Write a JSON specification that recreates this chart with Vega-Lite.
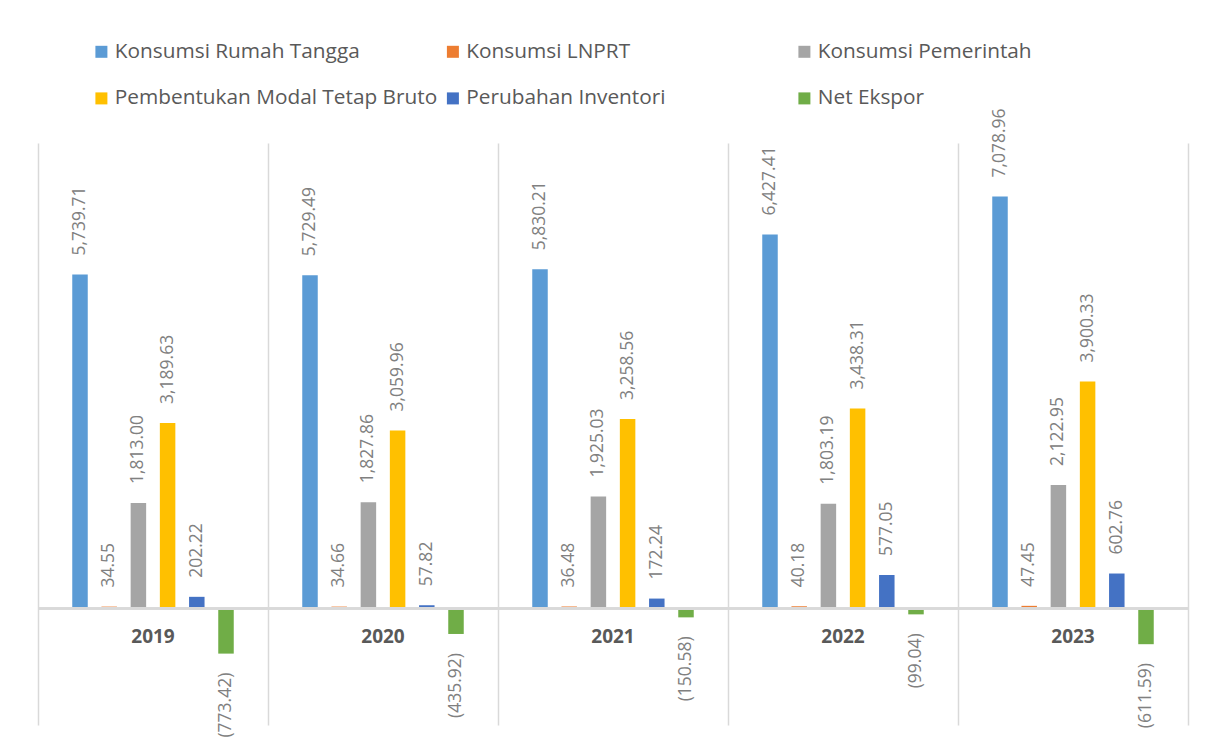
{
  "$schema": "https://vega.github.io/schema/vega-lite/v6.json",
  "autosize": "none",
  "width": 1150,
  "height": 582,
  "padding": {"left": 38, "top": 143, "right": 19, "bottom": 23},
  "background": "white",
  "config": {
    "font": "Open Sans",
    "view": {"stroke": null}
  },
  "data": {
    "values": [
      {"year": "2019", "series": "Konsumsi Rumah Tangga", "value": 5739.71},
      {"year": "2019", "series": "Konsumsi LNPRT", "value": 34.55},
      {"year": "2019", "series": "Konsumsi Pemerintah", "value": 1813.00},
      {"year": "2019", "series": "Pembentukan Modal Tetap Bruto", "value": 3189.63},
      {"year": "2019", "series": "Perubahan Inventori", "value": 202.22},
      {"year": "2019", "series": "Net Ekspor", "value": -773.42},
      {"year": "2020", "series": "Konsumsi Rumah Tangga", "value": 5729.49},
      {"year": "2020", "series": "Konsumsi LNPRT", "value": 34.66},
      {"year": "2020", "series": "Konsumsi Pemerintah", "value": 1827.86},
      {"year": "2020", "series": "Pembentukan Modal Tetap Bruto", "value": 3059.96},
      {"year": "2020", "series": "Perubahan Inventori", "value": 57.82},
      {"year": "2020", "series": "Net Ekspor", "value": -435.92},
      {"year": "2021", "series": "Konsumsi Rumah Tangga", "value": 5830.21},
      {"year": "2021", "series": "Konsumsi LNPRT", "value": 36.48},
      {"year": "2021", "series": "Konsumsi Pemerintah", "value": 1925.03},
      {"year": "2021", "series": "Pembentukan Modal Tetap Bruto", "value": 3258.56},
      {"year": "2021", "series": "Perubahan Inventori", "value": 172.24},
      {"year": "2021", "series": "Net Ekspor", "value": -150.58},
      {"year": "2022", "series": "Konsumsi Rumah Tangga", "value": 6427.41},
      {"year": "2022", "series": "Konsumsi LNPRT", "value": 40.18},
      {"year": "2022", "series": "Konsumsi Pemerintah", "value": 1803.19},
      {"year": "2022", "series": "Pembentukan Modal Tetap Bruto", "value": 3438.31},
      {"year": "2022", "series": "Perubahan Inventori", "value": 577.05},
      {"year": "2022", "series": "Net Ekspor", "value": -99.04},
      {"year": "2023", "series": "Konsumsi Rumah Tangga", "value": 7078.96},
      {"year": "2023", "series": "Konsumsi LNPRT", "value": 47.45},
      {"year": "2023", "series": "Konsumsi Pemerintah", "value": 2122.95},
      {"year": "2023", "series": "Pembentukan Modal Tetap Bruto", "value": 3900.33},
      {"year": "2023", "series": "Perubahan Inventori", "value": 602.76},
      {"year": "2023", "series": "Net Ekspor", "value": -611.59}
    ]
  },
  "encoding": {
    "x": {
      "field": "year",
      "type": "nominal",
      "scale": {"paddingInner": 0, "paddingOuter": 0},
      "axis": {
        "title": null,
        "labels": false,
        "ticks": false,
        "domain": false,
        "grid": true,
        "tickBand": "extent",
        "gridColor": "#d9d9d9",
        "gridWidth": 1.5
      }
    },
    "xOffset": {
      "field": "series",
      "type": "nominal",
      "sort": ["Konsumsi Rumah Tangga", "Konsumsi LNPRT", "Konsumsi Pemerintah", "Pembentukan Modal Tetap Bruto", "Perubahan Inventori", "Net Ekspor"],
      "scale": {"paddingInner": 0.123, "paddingOuter": 1}
    },
    "y": {
      "field": "value",
      "type": "quantitative",
      "scale": {"domain": [-2000, 8000], "nice": false},
      "axis": null
    }
  },
  "layer": [
    {
      "mark": {"type": "bar", "width": 15.5},
      "encoding": {
        "y2": {"datum": 0},
        "color": {
          "field": "series",
          "type": "nominal",
          "scale": {
            "domain": ["Konsumsi Rumah Tangga", "Konsumsi LNPRT", "Konsumsi Pemerintah", "Pembentukan Modal Tetap Bruto", "Perubahan Inventori", "Net Ekspor"],
            "range": ["#5B9BD5", "#ED7D31", "#A5A5A5", "#FFC000", "#4472C4", "#70AD47"]
          },
          "legend": {
            "title": null,
            "orient": "none",
            "legendX": 53,
            "legendY": -102,
            "direction": "horizontal",
            "columns": 3,
            "gridAlign": "all",
            "columnPadding": 4.5,
            "rowPadding": 25,
            "symbolType": "square",
            "symbolSize": 144,
            "symbolStrokeWidth": 0,
            "symbolOpacity": 1,
            "labelFontSize": 20.8,
            "labelColor": "#595959",
            "labelOffset": 3,
            "labelLimit": 400,
            "padding": 0
          }
        }
      }
    },
    {
      "transform": [{"filter": "datum.value >= 0"}],
      "mark": {"type": "text", "angle": 270, "align": "left", "baseline": "middle", "dx": 19, "fontSize": 17.5, "color": "#808080"},
      "encoding": {
        "text": {"field": "value", "type": "quantitative", "format": ",.2f"}
      }
    },
    {
      "transform": [{"filter": "datum.value < 0"}],
      "mark": {"type": "text", "angle": 270, "align": "right", "baseline": "middle", "dx": -19, "fontSize": 17.5, "color": "#808080"},
      "encoding": {
        "text": {"field": "value", "type": "quantitative", "format": "(,.2f"}
      }
    },
    {
      "mark": {"type": "rule", "color": "#d9d9d9", "strokeWidth": 2},
      "encoding": {
        "xOffset": null,
        "x": null,
        "y": {"datum": 0}
      }
    },
    {
      "transform": [{"filter": "datum.series === 'Konsumsi LNPRT'"}],
      "mark": {"type": "text", "fontSize": 19, "fontWeight": "bold", "color": "#595959", "baseline": "middle", "align": "center", "dy": 28},
      "encoding": {
        "xOffset": null,
        "y": {"datum": 0},
        "text": {"field": "year", "type": "nominal"}
      }
    }
  ]
}
